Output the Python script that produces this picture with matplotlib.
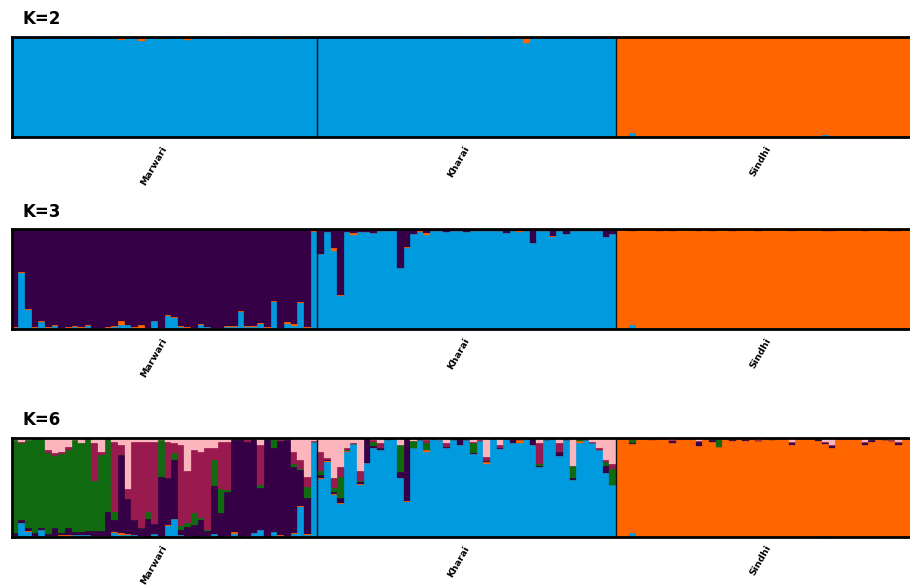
import numpy as np
import matplotlib
matplotlib.use("Agg")
import matplotlib.pyplot as plt

# ---------------- data ----------------
populations = ["Marwari", "Kharai", "Sindhi"]
n_individuals = [46, 45, 46]
panel_titles = ["K=2", "K=3", "K=6"]

color_blue = "#009ADF"
color_orange = "#FF6600"
color_purple = "#350046"
color_green = "#106B10"
color_maroon = "#991A4F"
color_pink = "#FDB5BD"

# K=2 (stack: blue, orange)
k2_orange_marwari = [0.01, 0.01, 0.015, 0.02, 0.01, 0.005, 0.01, 0.015, 0.01, 0.015,
                     0.01, 0.005, 0.01, 0.015, 0.015, 0.01, 0.03, 0.01, 0.01, 0.045,
                     0.01, 0.01, 0.025, 0.01, 0.01, 0.01, 0.035, 0.01, 0.005, 0.01,
                     0.01, 0.01, 0.015, 0.02, 0.01, 0.005, 0.01, 0.01, 0.015, 0.02,
                     0.01, 0.02, 0.025, 0.01, 0.015, 0.01]
k2_orange_kharai = [0.01, 0.005, 0.01, 0.01, 0.005, 0.01, 0.005, 0.01, 0.01, 0.005,
                    0.01, 0.005, 0.01, 0.01, 0.005, 0.01, 0.005, 0.01, 0.01, 0.005,
                    0.01, 0.005, 0.01, 0.01, 0.005, 0.02, 0.005, 0.01, 0.01, 0.005,
                    0.01, 0.06, 0.01, 0.005, 0.01, 0.01, 0.005, 0.01, 0.005, 0.01,
                    0.01, 0.005, 0.01, 0.01, 0.005]
k2_blue_sindhi = [0.005, 0.005, 0.04, 0.005, 0.003, 0.005, 0.003, 0.005, 0.005, 0.003,
                  0.005, 0.003, 0.005, 0.005, 0.003, 0.005, 0.005, 0.003, 0.005, 0.003,
                  0.005, 0.005, 0.003, 0.005, 0.003, 0.005, 0.005, 0.003, 0.005, 0.005,
                  0.003, 0.015, 0.005, 0.003, 0.005, 0.005, 0.003, 0.005, 0.005, 0.003,
                  0.005, 0.005, 0.003, 0.005, 0.005, 0.003]

# K=3 (stack: blue, orange, purple)
k3_blue_marwari = [0.01, 0.56, 0.19, 0.01, 0.07, 0.01, 0.03, 0.0, 0.01, 0.02,
                   0.01, 0.025, 0.0, 0.0, 0.01, 0.02, 0.04, 0.035, 0.01, 0.01,
                   0.0, 0.075, 0.0, 0.13, 0.11, 0.02, 0.01, 0.0, 0.04, 0.015,
                   0.0, 0.005, 0.02, 0.02, 0.17, 0.02, 0.02, 0.05, 0.01, 0.27,
                   0.005, 0.045, 0.03, 0.26, 0.005, 0.97]
k3_orange_marwari = [0.003, 0.005, 0.003, 0.01, 0.01, 0.003, 0.005, 0.003, 0.003, 0.003,
                     0.003, 0.01, 0.003, 0.003, 0.003, 0.003, 0.04, 0.003, 0.003, 0.025,
                     0.003, 0.003, 0.003, 0.003, 0.003, 0.003, 0.01, 0.003, 0.003, 0.003,
                     0.003, 0.003, 0.01, 0.01, 0.01, 0.003, 0.003, 0.003, 0.01, 0.01,
                     0.003, 0.02, 0.015, 0.01, 0.015, 0.01]
k3_purple_kharai = [0.25, 0.03, 0.19, 0.66, 0.03, 0.04, 0.03, 0.03, 0.04, 0.02,
                    0.02, 0.02, 0.39, 0.18, 0.05, 0.02, 0.04, 0.02, 0.02, 0.03,
                    0.02, 0.02, 0.03, 0.02, 0.02, 0.02, 0.02, 0.02, 0.04, 0.02,
                    0.02, 0.02, 0.14, 0.02, 0.02, 0.07, 0.02, 0.05, 0.02, 0.02,
                    0.02, 0.02, 0.02, 0.08, 0.05]
k3_orange_kharai = [0.005, 0.003, 0.03, 0.01, 0.003, 0.02, 0.003, 0.003, 0.003, 0.003,
                    0.003, 0.003, 0.003, 0.01, 0.003, 0.01, 0.02, 0.003, 0.003, 0.003,
                    0.003, 0.003, 0.003, 0.003, 0.003, 0.003, 0.003, 0.003, 0.003, 0.003,
                    0.01, 0.003, 0.003, 0.003, 0.003, 0.01, 0.003, 0.003, 0.003, 0.003,
                    0.003, 0.003, 0.003, 0.003, 0.003]
k3_blue_sindhi = [0.005, 0.005, 0.04, 0.005, 0.003, 0.005, 0.003, 0.005, 0.005, 0.003,
                  0.005, 0.003, 0.005, 0.005, 0.003, 0.005, 0.005, 0.003, 0.005, 0.003,
                  0.005, 0.005, 0.003, 0.005, 0.003, 0.005, 0.005, 0.003, 0.005, 0.005,
                  0.003, 0.01, 0.005, 0.003, 0.005, 0.005, 0.003, 0.005, 0.005, 0.003,
                  0.005, 0.005, 0.003, 0.005, 0.005, 0.003]
k3_purple_sindhi = [0.015, 0.01, 0.02, 0.01, 0.015, 0.01, 0.02, 0.015, 0.025, 0.01,
                    0.015, 0.01, 0.025, 0.015, 0.02, 0.015, 0.01, 0.02, 0.01, 0.015,
                    0.01, 0.02, 0.015, 0.01, 0.015, 0.01, 0.025, 0.015, 0.01, 0.015,
                    0.01, 0.025, 0.02, 0.015, 0.01, 0.015, 0.01, 0.02, 0.015, 0.01,
                    0.015, 0.02, 0.025, 0.01, 0.015, 0.01]

# K=6 (stack: blue, orange, purple, green, maroon, pink)
k6_blue_marwari = [0.01, 0.14, 0.05, 0.01, 0.07, 0.01, 0.01, 0.01, 0.0, 0.02,
                   0.02, 0.02, 0.01, 0.01, 0.01, 0.04, 0.02, 0.02, 0.02, 0.01,
                   0.0, 0.03, 0.0, 0.11, 0.18, 0.02, 0.01, 0.0, 0.01, 0.01,
                   0.03, 0.0, 0.01, 0.03, 0.0, 0.01, 0.04, 0.07, 0.0, 0.05,
                   0.01, 0.0, 0.03, 0.30, 0.02, 0.95]
k6_orange_marwari = [0.0, 0.0, 0.01, 0.0, 0.0, 0.0, 0.0, 0.01, 0.02, 0.0,
                     0.0, 0.0, 0.0, 0.0, 0.0, 0.01, 0.02, 0.01, 0.0, 0.0,
                     0.0, 0.0, 0.0, 0.01, 0.0, 0.0, 0.0, 0.0, 0.0, 0.0,
                     0.0, 0.0, 0.0, 0.02, 0.0, 0.0, 0.0, 0.0, 0.0, 0.0,
                     0.01, 0.01, 0.01, 0.01, 0.01, 0.0]
k6_purple_marwari = [0.03, 0.03, 0.035, 0.03, 0.02, 0.02, 0.08, 0.02, 0.07, 0.03,
                     0.03, 0.04, 0.05, 0.05, 0.24, 0.12, 0.78, 0.35, 0.15, 0.08,
                     0.18, 0.10, 0.60, 0.47, 0.59, 0.05, 0.09, 0.12, 0.16, 0.05,
                     0.48, 0.24, 0.44, 0.92, 0.97, 0.94, 0.93, 0.42, 0.97, 0.84,
                     0.94, 0.96, 0.66, 0.36, 0.36, 0.0]
k6_maroon_marwari = [0.0, 0.01, 0.0, 0.0, 0.0, 0.03, 0.03, 0.02, 0.03, 0.0,
                     0.0, 0.0, 0.38, 0.03, 0.0, 0.70, 0.10, 0.10, 0.78, 0.86,
                     0.70, 0.82, 0.0, 0.36, 0.10, 0.81, 0.52, 0.63, 0.66, 0.82,
                     0.12, 0.47, 0.48, 0.0, 0.0, 0.03, 0.0, 0.40, 0.0, 0.0,
                     0.02, 0.01, 0.12, 0.09, 0.10, 0.01]
k6_pink_marwari = [0.03, 0.045, 0.03, 0.02, 0.02, 0.13, 0.16, 0.15, 0.10, 0.03,
                   0.06, 0.02, 0.06, 0.15, 0.02, 0.05, 0.08, 0.52, 0.05, 0.05,
                   0.05, 0.05, 0.03, 0.05, 0.06, 0.08, 0.34, 0.13, 0.15, 0.11,
                   0.11, 0.05, 0.05, 0.02, 0.02, 0.02, 0.02, 0.08, 0.02, 0.02,
                   0.02, 0.02, 0.15, 0.23, 0.40, 0.04]

k6_pink_kharai = [0.15, 0.21, 0.41, 0.30, 0.11, 0.06, 0.34, 0.01, 0.03, 0.06,
                  0.01, 0.01, 0.08, 0.01, 0.04, 0.02, 0.03, 0.02, 0.03, 0.06,
                  0.01, 0.01, 0.02, 0.045, 0.03, 0.20, 0.02, 0.08, 0.02, 0.01,
                  0.02, 0.01, 0.01, 0.06, 0.02, 0.01, 0.06, 0.02, 0.29, 0.02,
                  0.02, 0.05, 0.11, 0.23, 0.27]
k6_maroon_kharai = [0.19, 0.02, 0.10, 0.10, 0.02, 0.01, 0.10, 0.0, 0.02, 0.05,
                    0.0, 0.005, 0.0, 0.0, 0.0, 0.01, 0.03, 0.0, 0.0, 0.035,
                    0.0, 0.0, 0.01, 0.01, 0.01, 0.04, 0.0, 0.03, 0.0, 0.0,
                    0.01, 0.0, 0.0, 0.21, 0.01, 0.0, 0.09, 0.01, 0.0, 0.0,
                    0.01, 0.01, 0.02, 0.02, 0.05]
k6_green_kharai = [0.035, 0.0, 0.04, 0.21, 0.01, 0.0, 0.01, 0.0, 0.04, 0.0,
                   0.0, 0.0, 0.27, 0.0, 0.07, 0.0, 0.07, 0.0, 0.0, 0.0,
                   0.015, 0.0, 0.0, 0.10, 0.0, 0.0, 0.0, 0.0, 0.0, 0.0,
                   0.0, 0.0, 0.0, 0.02, 0.0, 0.0, 0.0, 0.0, 0.12, 0.02,
                   0.0, 0.0, 0.0, 0.035, 0.16]
k6_purple_kharai = [0.035, 0.01, 0.02, 0.045, 0.0, 0.0, 0.02, 0.25, 0.02, 0.02,
                    0.02, 0.0, 0.06, 0.63, 0.0, 0.0, 0.0, 0.0, 0.0, 0.015,
                    0.0, 0.07, 0.0, 0.01, 0.0, 0.01, 0.0, 0.01, 0.0, 0.05,
                    0.0, 0.0, 0.07, 0.01, 0.0, 0.0, 0.035, 0.0, 0.02, 0.0,
                    0.0, 0.0, 0.0, 0.07, 0.0]
k6_orange_kharai = [0.01, 0.01, 0.01, 0.01, 0.01, 0.0, 0.01, 0.0, 0.0, 0.0,
                    0.0, 0.0, 0.0, 0.01, 0.0, 0.0, 0.015, 0.0, 0.0, 0.0,
                    0.0, 0.0, 0.0, 0.0, 0.0, 0.015, 0.0, 0.0, 0.0, 0.0,
                    0.03, 0.01, 0.0, 0.0, 0.0, 0.0, 0.0, 0.0, 0.0, 0.015,
                    0.0, 0.0, 0.0, 0.0, 0.0]

k6_blue_sindhi = [0.005, 0.005, 0.04, 0.005, 0.003, 0.005, 0.003, 0.005, 0.005, 0.003,
                  0.005, 0.003, 0.005, 0.005, 0.003, 0.005, 0.005, 0.003, 0.005, 0.003,
                  0.005, 0.005, 0.003, 0.005, 0.003, 0.005, 0.005, 0.003, 0.005, 0.005,
                  0.003, 0.01, 0.005, 0.003, 0.005, 0.005, 0.003, 0.005, 0.005, 0.003,
                  0.005, 0.005, 0.003, 0.005, 0.005, 0.003]
k6_purple_sindhi = [0.003, 0.003, 0.01, 0.003, 0.003, 0.003, 0.005, 0.003, 0.02, 0.003,
                    0.003, 0.003, 0.04, 0.003, 0.02, 0.003, 0.003, 0.01, 0.003, 0.01,
                    0.003, 0.005, 0.003, 0.003, 0.003, 0.003, 0.02, 0.003, 0.003, 0.003,
                    0.003, 0.01, 0.02, 0.003, 0.003, 0.003, 0.003, 0.02, 0.02, 0.003,
                    0.003, 0.005, 0.02, 0.003, 0.003, 0.003]
k6_green_sindhi = [0.0, 0.0, 0.03, 0.0, 0.0, 0.0, 0.0, 0.0, 0.0, 0.0,
                   0.0, 0.0, 0.0, 0.0, 0.0, 0.08, 0.0, 0.0, 0.0, 0.0,
                   0.0, 0.0, 0.0, 0.01, 0.0, 0.0, 0.0, 0.0, 0.0, 0.0,
                   0.015, 0.0, 0.0, 0.0, 0.0, 0.0, 0.0, 0.0, 0.0, 0.0,
                   0.0, 0.0, 0.0, 0.0, 0.0, 0.0]
k6_maroon_sindhi = [0.005, 0.005, 0.005, 0.005, 0.005, 0.005, 0.005, 0.005, 0.005, 0.005,
                    0.005, 0.005, 0.01, 0.005, 0.01, 0.005, 0.005, 0.005, 0.005, 0.005,
                    0.005, 0.005, 0.005, 0.005, 0.005, 0.005, 0.005, 0.005, 0.005, 0.005,
                    0.005, 0.005, 0.005, 0.005, 0.005, 0.005, 0.005, 0.01, 0.005, 0.005,
                    0.005, 0.005, 0.005, 0.005, 0.005, 0.005]
k6_pink_sindhi = [0.01, 0.01, 0.02, 0.01, 0.01, 0.015, 0.01, 0.01, 0.03, 0.01,
                  0.01, 0.01, 0.04, 0.01, 0.02, 0.01, 0.01, 0.02, 0.01, 0.02,
                  0.01, 0.03, 0.01, 0.01, 0.01, 0.01, 0.05, 0.01, 0.01, 0.01,
                  0.01, 0.05, 0.08, 0.01, 0.01, 0.01, 0.01, 0.05, 0.02, 0.01,
                  0.02, 0.03, 0.05, 0.01, 0.01, 0.01]


def rest(*parts):
    total = np.sum([np.asarray(p, dtype=float) for p in parts], axis=0)
    return np.clip(1.0 - total, 0.0, None)


def cat(*parts):
    return np.concatenate([np.asarray(p, dtype=float) for p in parts])


# assemble per-panel stacks (bottom -> top)
k2_stack = [
    (color_blue, cat(rest(k2_orange_marwari), rest(k2_orange_kharai), k2_blue_sindhi)),
    (color_orange, cat(k2_orange_marwari, k2_orange_kharai, rest(k2_blue_sindhi))),
]
k3_stack = [
    (color_blue, cat(k3_blue_marwari, rest(k3_purple_kharai, k3_orange_kharai), k3_blue_sindhi)),
    (color_orange, cat(k3_orange_marwari, k3_orange_kharai, rest(k3_blue_sindhi, k3_purple_sindhi))),
    (color_purple, cat(rest(k3_blue_marwari, k3_orange_marwari), k3_purple_kharai, k3_purple_sindhi)),
]
k6_stack = [
    (color_blue, cat(k6_blue_marwari,
                     rest(k6_pink_kharai, k6_maroon_kharai, k6_green_kharai, k6_purple_kharai, k6_orange_kharai),
                     k6_blue_sindhi)),
    (color_orange, cat(k6_orange_marwari, k6_orange_kharai,
                       rest(k6_blue_sindhi, k6_purple_sindhi, k6_green_sindhi, k6_maroon_sindhi, k6_pink_sindhi))),
    (color_purple, cat(k6_purple_marwari, k6_purple_kharai, k6_purple_sindhi)),
    (color_green, cat(rest(k6_blue_marwari, k6_orange_marwari, k6_purple_marwari, k6_maroon_marwari, k6_pink_marwari),
                      k6_green_kharai, k6_green_sindhi)),
    (color_maroon, cat(k6_maroon_marwari, k6_maroon_kharai, k6_maroon_sindhi)),
    (color_pink, cat(k6_pink_marwari, k6_pink_kharai, k6_pink_sindhi)),
]
stacks = [k2_stack, k3_stack, k6_stack]

# ---------------- layout ----------------
W, H = 910, 587
fig = plt.figure(figsize=(W / 100, H / 100), dpi=100)
fig.patch.set_facecolor("white")

n_total = sum(n_individuals)
left_px = 11.8
bar_px = 6.64
right_px = left_px + n_total * bar_px
panel_px = [(37.0, 136.5), (228.5, 328.5), (437.5, 537.0)]
title_baseline_px = [24.5, 217.0, 425.0]
label_drop_pt = [6.0, 6.0, 5.0]

bounds = np.cumsum([0] + n_individuals)
centers = [(bounds[i] + bounds[i + 1]) / 2 for i in range(len(populations))]
x = np.arange(n_total)

for p, (top, bot) in enumerate(panel_px):
    ax = fig.add_axes([left_px / W, 1 - bot / H, (right_px - left_px) / W, (bot - top) / H])
    bottom = np.zeros(n_total)
    for col, vals in stacks[p]:
        ax.bar(x, vals, width=1.0, bottom=bottom, align="edge", color=col,
               edgecolor=col, linewidth=0.2)
        bottom = bottom + vals
    ax.set_xlim(0, n_total)
    ax.set_ylim(0, 1)
    ax.set_xticks([])
    ax.set_yticks([])
    for s in ax.spines.values():
        s.set_linewidth(2.0)
        s.set_color("black")
    for b in bounds[1:-1]:
        ax.axvline(b, color="#111111", lw=1.0)
    for name, c in zip(populations, centers):
        ax.annotate(name, xy=(c, 0), xycoords=("data", "axes fraction"),
                    xytext=(3.0, -label_drop_pt[p]), textcoords="offset points",
                    rotation=60, ha="right", va="top", fontsize=6.8,
                    fontweight="bold", family="DejaVu Sans")
    fig.text(22 / W, 1 - title_baseline_px[p] / H, panel_titles[p], ha="left",
             va="baseline", fontsize=12, fontweight="bold", family="DejaVu Sans")

fig.savefig("out.png", dpi=100, facecolor="white")
